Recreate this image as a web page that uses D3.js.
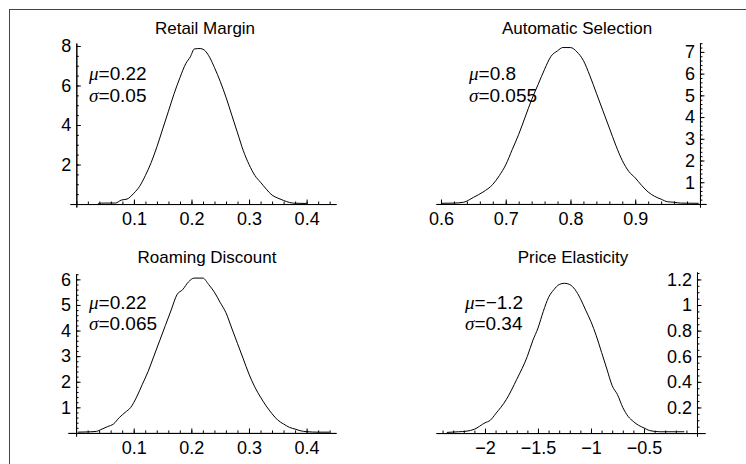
<!DOCTYPE html>
<html>
<head>
<meta charset="utf-8">
<script src="https://cdn.jsdelivr.net/npm/d3@7"></script>
<style>
  html, body { margin: 0; padding: 0; background: #fff; }
  svg { display: block; }
  text { font-family: "Liberation Sans", Arial, sans-serif; fill: #000; }
</style>
</head>
<body>
<svg id="chart" width="746" height="464"></svg>
<script>
// ---------- DATA ----------
const titles = ["Retail Margin", "Automatic Selection", "Roaming Discount", "Price Elasticity"];
const muLabels = ["0.22", "0.8", "0.22", "\u22121.2"];
const sigmaLabels = ["0.05", "0.055", "0.065", "0.34"];

const retailX = [0.038,0.05,0.068,0.078,0.088,0.10,0.11,0.12,0.13,0.14,0.15,0.16,0.17,0.18,0.19,0.198,0.205,0.215,0.222,0.232,0.24,0.25,0.26,0.27,0.28,0.29,0.30,0.31,0.32,0.33,0.34,0.35,0.36,0.37,0.38,0.40];
const retailY = [0.03,0.05,0.05,0.2,0.25,0.55,0.9,1.45,2.1,2.9,3.8,4.7,5.6,6.4,7.1,7.45,7.85,7.87,7.8,7.4,6.9,6.2,5.4,4.5,3.6,2.7,2.0,1.45,1.1,0.75,0.45,0.3,0.18,0.08,0.04,0.03];

const autoX = [0.60,0.62,0.635,0.65,0.665,0.68,0.69,0.70,0.71,0.72,0.73,0.74,0.75,0.76,0.77,0.78,0.788,0.80,0.81,0.82,0.83,0.84,0.85,0.86,0.87,0.88,0.89,0.90,0.91,0.92,0.93,0.94,0.95,0.96,0.97,0.998];
const autoY = [0.03,0.04,0.08,0.3,0.55,0.9,1.3,1.8,2.5,3.2,4.0,4.8,5.5,6.2,6.8,7.05,7.2,7.2,7.0,6.6,5.9,5.1,4.3,3.5,2.7,2.0,1.5,1.2,0.85,0.55,0.35,0.22,0.1,0.08,0.04,0.03];

const roamX = [0.003,0.02,0.035,0.045,0.055,0.065,0.075,0.085,0.095,0.105,0.115,0.125,0.135,0.145,0.155,0.165,0.175,0.185,0.195,0.205,0.22,0.23,0.24,0.25,0.26,0.27,0.28,0.29,0.30,0.31,0.32,0.33,0.34,0.35,0.36,0.37,0.38,0.39,0.40,0.42,0.44];
const roamY = [0.03,0.04,0.06,0.15,0.25,0.35,0.6,0.8,1.0,1.4,1.9,2.4,3.0,3.6,4.2,4.8,5.4,5.6,5.9,6.05,6.05,5.8,5.5,5.1,4.7,4.1,3.5,2.9,2.3,1.8,1.4,1.05,0.75,0.5,0.35,0.22,0.15,0.08,0.05,0.03,0.03];

const priceX = [-2.36,-2.25,-2.17,-2.1,-2.0,-1.95,-1.9,-1.8,-1.7,-1.6,-1.55,-1.5,-1.45,-1.4,-1.35,-1.3,-1.25,-1.2,-1.15,-1.1,-1.05,-1.0,-0.95,-0.9,-0.85,-0.8,-0.75,-0.7,-0.65,-0.6,-0.55,-0.5,-0.45,-0.35,-0.2,-0.12];
const priceY = [0.005,0.01,0.015,0.03,0.08,0.1,0.15,0.26,0.42,0.6,0.72,0.82,0.95,1.06,1.12,1.16,1.17,1.16,1.12,1.05,0.96,0.87,0.76,0.63,0.5,0.37,0.3,0.2,0.13,0.09,0.06,0.04,0.02,0.01,0.01,0.01];

const retailXTicks = [0.1, 0.2, 0.3, 0.4];
const retailYTicks = [2, 4, 6, 8];
const autoXTicks = [0.6, 0.7, 0.8, 0.9];
const autoYTicks = [1, 2, 3, 4, 5, 6, 7];
const roamXTicks = [0.1, 0.2, 0.3, 0.4];
const roamYTicks = [1, 2, 3, 4, 5, 6];
const priceXTicks = [-2, -1.5, -1, -0.5];
const priceYTicks = [0.2, 0.4, 0.6, 0.8, 1, 1.2];

// ---------- LAYOUT ----------
const panels = [
  { xs: retailX, ys: retailY, xt: retailXTicks, yt: retailYTicks, xminor: 0.02, yminor: 0.5,
    xd: [-0.011, 0.451], xr: [70, 336], yd: [-0.15, 8.15], yr: [207, 43], xAxisAt: 0, yAxisAt: 0,
    title: [205, 34], lab: [89, 80, 102] },
  { xs: autoX, ys: autoY, xt: autoXTicks, yt: autoYTicks, xminor: 0.02, yminor: 0.2,
    xd: [0.5923, 1.0093], xr: [436, 706], yd: [-0.14, 7.41], yr: [207, 43], xAxisAt: 0, yAxisAt: 1.0,
    title: [577, 34], lab: [469, 80, 102] },
  { xs: roamX, ys: roamY, xt: roamXTicks, yt: roamYTicks, xminor: 0.02, yminor: 0.2,
    xd: [-0.014, 0.451], xr: [68, 336], yd: [-0.12, 6.21], yr: [436, 274], xAxisAt: 0, yAxisAt: 0,
    title: [207, 263], lab: [89, 309, 330] },
  { xs: priceX, ys: priceY, xt: priceXTicks, yt: priceYTicks, xminor: 0.1, yminor: 0.05,
    xd: [-2.462, 0.0755], xr: [436, 705], yd: [-0.023, 1.258], yr: [436, 272], xAxisAt: 0, yAxisAt: 0,
    title: [573, 263], lab: [465, 309, 330] }
];

const svg = d3.select("#chart");

// outer frame (left & top visible)
svg.append("rect")
  .attr("x", 9.5).attr("y", 9.5).attr("width", 800).attr("height", 600)
  .attr("fill", "none").attr("stroke", "#444").attr("stroke-width", 1);

const fmt = d3.format("");

function minorTicks(domain, step) {
  const out = [];
  const s = Math.ceil(domain[0] / step - 1e-9), e = Math.floor(domain[1] / step + 1e-9);
  for (let i = s; i <= e; i++) out.push(+(i * step).toFixed(6));
  return out;
}

panels.forEach((p, i) => {
  const x = d3.scaleLinear().domain(p.xd).range(p.xr);
  const y = d3.scaleLinear().domain(p.yd).range(p.yr);
  const g = svg.append("g");

  // curve
  const pts = p.xs.map((v, k) => [v, p.ys[k]]);
  g.append("path")
    .datum(pts)
    .attr("fill", "none")
    .attr("stroke", "#000")
    .attr("stroke-width", 1)
    .attr("stroke-linejoin", "round")
    .attr("d", d3.line().x(d => x(d[0])).y(d => y(d[1])).curve(d3.curveMonotoneX));

  // x axis (ticks pointing up)
  const yx = y(p.xAxisAt);
  const xMinor = g.append("g").attr("transform", `translate(0,${yx})`)
    .call(d3.axisBottom(x).tickValues(minorTicks(p.xd, p.xminor)).tickSizeInner(-2.5).tickSizeOuter(0).tickFormat(""));
  const xMajor = g.append("g").attr("transform", `translate(0,${yx})`)
    .call(d3.axisBottom(x).tickValues(p.xt).tickSizeInner(-4.5).tickSizeOuter(0).tickPadding(8).tickFormat(fmt));

  // y axis (ticks pointing right)
  const xy = x(p.yAxisAt);
  const yMinor = g.append("g").attr("transform", `translate(${xy},0)`)
    .call(d3.axisLeft(y).tickValues(minorTicks([0.0001, p.yd[1]], p.yminor)).tickSizeInner(-2.5).tickSizeOuter(0).tickFormat(""));
  const yMajor = g.append("g").attr("transform", `translate(${xy},0)`)
    .call(d3.axisLeft(y).tickValues(p.yt).tickSizeInner(-4.5).tickSizeOuter(0).tickPadding(5).tickFormat(fmt));

  [xMinor, xMajor, yMinor, yMajor].forEach(a => {
    a.selectAll("path.domain").attr("stroke", "#000").attr("stroke-width", 1);
    a.selectAll(".tick line").attr("stroke", "#000").attr("stroke-width", 1);
    a.selectAll(".tick text")
      .attr("font-family", "'Liberation Sans', Arial, sans-serif")
      .attr("font-size", 18).attr("fill", "#000");
  });

  // title
  g.append("text")
    .attr("x", p.title[0]).attr("y", p.title[1])
    .attr("text-anchor", "middle")
    .attr("font-size", 17)
    .text(titles[i]);

  // mu / sigma labels
  const t1 = g.append("text").attr("x", p.lab[0]).attr("y", p.lab[1]).attr("font-size", 19);
  t1.append("tspan").attr("font-family", "'Liberation Serif', serif").attr("font-style", "italic").text("\u03bc");
  t1.append("tspan").text("=" + muLabels[i]);
  const t2 = g.append("text").attr("x", p.lab[0]).attr("y", p.lab[2]).attr("font-size", 19);
  t2.append("tspan").attr("font-family", "'Liberation Serif', serif").attr("font-style", "italic").text("\u03c3");
  t2.append("tspan").text("=" + sigmaLabels[i]);
});
</script>
</body>
</html>
